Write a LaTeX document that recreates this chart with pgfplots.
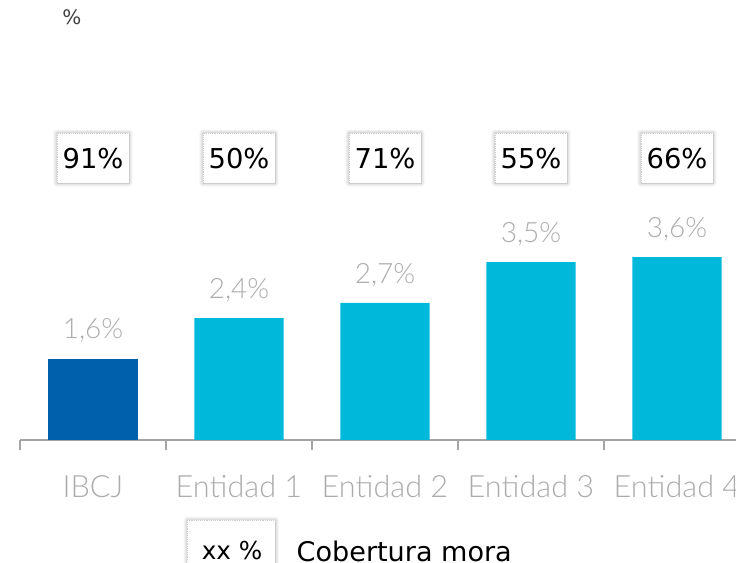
\documentclass[border=0pt]{standalone}
\usepackage{pgfplots}
\pgfplotsset{compat=1.18}
\usepackage{fontspec}
\setmainfont{DejaVu Sans}
\newfontfamily\lightfont{Lato Light}
\usetikzlibrary{shadows.blur}
\definecolor{darkblue}{RGB}{0,96,172}
\definecolor{cyanbar}{RGB}{0,184,218}
\definecolor{lgray}{RGB}{172,172,172}
\definecolor{agray}{RGB}{165,165,165}
\tikzset{valbox/.style={draw=gray!40, densely dotted, fill=white, minimum width=54pt, minimum height=37.5pt,
  inner sep=0pt, blur shadow={shadow xshift=0pt, shadow yshift=0pt, shadow blur radius=3pt, shadow opacity=35, shadow blur steps=6},
  font=\fontsize{20.5}{20.5}\selectfont}}
\begin{document}
\begin{tikzpicture}[x=0.75pt,y=0.75pt]
\begin{axis}[
  at={(69.75pt,92.25pt)}, anchor=origin,
  scale only axis, width=547.5pt, height=228.6pt,
  xmin=-0.5, xmax=4.5, ymin=0, ymax=6,
  enlargelimits=false,
  axis x line=bottom, axis y line=none,
  axis line style={agray, line width=1pt, -},
  xtick={0,1,2,3,4},
  xticklabels={IBCJ,Entidad 1,Entidad 2,Entidad 3,Entidad 4},
  major tick length=0pt,
  minor xtick={-0.5,0.5,1.5,2.5,3.5,4.5},
  minor tick length=7.5pt,
  tick align=outside,
  minor tick style={agray, line width=1pt},
  x tick label style={font=\lightfont\fontsize{23}{23}\selectfont, text=lgray, anchor=center, yshift=-35pt},
  ybar, bar width=0.61, bar shift=0pt,
  clip=false,
  nodes near coords={\pgfmathprintnumber[fixed,precision=1,use comma,fixed zerofill,assume math mode=true]{\pgfplotspointmeta}\%},
  every node near coord/.append style={font=\lightfont\fontsize{21}{21}\selectfont, text=lgray, anchor=center, yshift=21pt},
]
\addplot[fill=darkblue, draw=none] coordinates {(0,1.6)};
\addplot[fill=cyanbar, draw=none] coordinates {(1,2.4) (2,2.7) (3,3.5) (4,3.6)};
\node[valbox] at (axis cs:0,5.55) {91\%};
\node[valbox] at (axis cs:1,5.55) {50\%};
\node[valbox] at (axis cs:2,5.55) {71\%};
\node[valbox] at (axis cs:3,5.55) {55\%};
\node[valbox] at (axis cs:4,5.55) {66\%};
\end{axis}
\node[font=\fontsize{15}{15}\selectfont, text=black!75] at (72,546) {\%};
\node[valbox, minimum width=66pt, anchor=north west] at (187,43) {};
\node[font=\fontsize{18.5}{18.5}\selectfont, text=black] at (232,12) {xx \%};
\node[font=\fontsize{20.3}{20.3}\selectfont, text=black, anchor=west] at (292,12) {Cobertura mora};
\pgfresetboundingbox
\path[use as bounding box] (0,0) rectangle (736,563);
\end{tikzpicture}
\end{document}
